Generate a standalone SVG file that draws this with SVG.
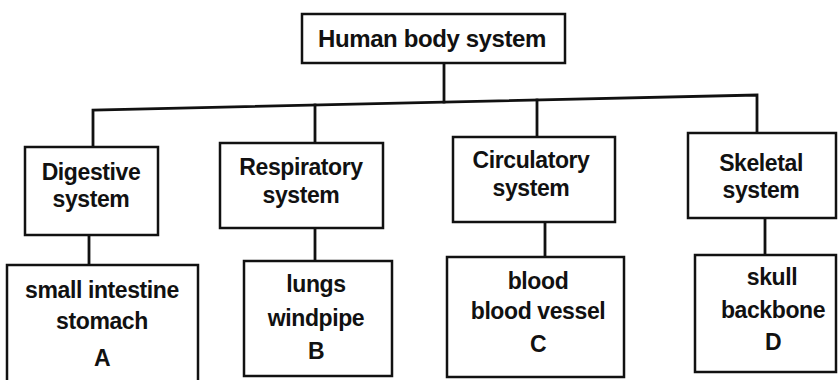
<svg xmlns="http://www.w3.org/2000/svg" width="839" height="380" viewBox="0 0 839 380">
<style>
.box{fill:#fff;stroke:#111;stroke-width:2.5}
.ln{fill:none;stroke:#111;stroke-width:2.8;stroke-linecap:square}
text{font-family:"Liberation Sans",Arial,sans-serif;font-weight:bold;font-size:23px;fill:#111;text-anchor:middle;letter-spacing:-0.4px}
.t{font-size:24px}
</style>
<rect width="839" height="380" fill="#fff"/>
<g id="connectors">
<polyline class="ln" points="93,147 93,110 757,95 757,132"/>
<line class="ln" x1="444" y1="63" x2="444" y2="102"/>
<line class="ln" x1="315" y1="105" x2="315" y2="143"/>
<line class="ln" x1="537" y1="100" x2="537" y2="137"/>
<line class="ln" x1="89" y1="235" x2="89" y2="265"/>
<line class="ln" x1="315" y1="228" x2="315" y2="261"/>
<line class="ln" x1="545" y1="222" x2="545" y2="257"/>
<line class="ln" x1="765" y1="218" x2="765" y2="255"/>
</g>
<g id="root">
<rect class="box" x="302" y="14" width="263" height="49"/>
<text class="t" x="432" y="47">Human body system</text>
</g>
<g id="digestive">
<rect class="box" x="25" y="147" width="133" height="88"/>
<text x="91" y="180">Digestive</text>
<text x="91" y="207">system</text>
</g>
<g id="respiratory">
<rect class="box" x="220" y="143" width="163" height="85"/>
<text x="301" y="175">Respiratory</text>
<text x="301" y="203">system</text>
</g>
<g id="circulatory">
<rect class="box" x="453" y="137" width="162" height="85"/>
<text x="531" y="168">Circulatory</text>
<text x="531" y="196">system</text>
</g>
<g id="skeletal">
<rect class="box" x="688" y="133" width="148" height="85"/>
<text x="761" y="171">Skeletal</text>
<text x="761" y="198">system</text>
</g>
<g id="boxA">
<rect class="box" x="7" y="265" width="191" height="125"/>
<text x="102" y="298">small intestine</text>
<text x="102" y="329">stomach</text>
<text x="102" y="366">A</text>
</g>
<g id="boxB">
<rect class="box" x="244" y="261" width="148" height="115"/>
<text x="316" y="292">lungs</text>
<text x="316" y="326">windpipe</text>
<text x="316" y="359">B</text>
</g>
<g id="boxC">
<rect class="box" x="447" y="257" width="177" height="120"/>
<text x="538" y="289">blood</text>
<text x="538" y="319">blood vessel</text>
<text x="538" y="352">C</text>
</g>
<g id="boxD">
<rect class="box" x="695" y="255" width="141" height="117"/>
<text x="772" y="285">skull</text>
<text x="773" y="318">backbone</text>
<text x="773" y="350">D</text>
</g>
</svg>
